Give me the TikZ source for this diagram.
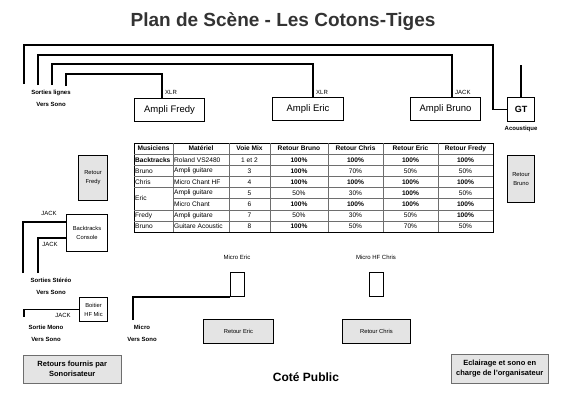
\documentclass[tikz,border=0pt]{standalone}
\usepackage{fontspec}
\setmainfont{Liberation Sans}
\usetikzlibrary{positioning}
\definecolor{grisclair}{RGB}{228,228,228}
\definecolor{grisligne}{RGB}{110,110,110}
\newcommand{\cent}{\textbf{100\%}}
\tikzset{>=stealth}

\begin{document}
\begin{tikzpicture}[x=1pt,y=-1pt,
	cable/.style={line width=1.1pt},
	ampli/.style={draw, line width=1pt, minimum width=70pt, minimum height=23pt, inner sep=0pt, font=\fontsize{9.5}{11}\selectfont},
	retour/.style={draw, line width=1pt, fill=grisclair, inner sep=0pt, align=center, font=\fontsize{5.8}{9}\selectfont},
	boite/.style={draw, line width=1pt, inner sep=0pt, align=center, font=\fontsize{5.8}{9}\selectfont},
	note/.style={draw=grisligne, line width=0.5pt, fill=grisclair, inner sep=0pt, align=center, font=\fontsize{7.5}{10}\selectfont\bfseries},
	petit/.style={font=\fontsize{6}{7}\selectfont, inner sep=1pt},
	petitgras/.style={font=\fontsize{6}{12}\selectfont\bfseries, inner sep=1pt, align=center},
	cellule/.style={font=\fontsize{6.6}{7}\selectfont, inner sep=1pt},
	grille/.style={grisligne, line width=0.4pt}]

	\useasboundingbox (0,0) rectangle (566,400);

	% titre
	\node[font=\fontsize{19}{22}\selectfont\bfseries, text=black!80] (titre) at (283,22) {Plan de Scène - Les Cotons-Tiges};

	% amplis et GT
	\node[ampli, anchor=north west] (fredy) at (134,98) {Ampli Fredy};
	\node[ampli, anchor=north west, minimum width=71pt] (eric) at (272,97) {Ampli Eric};
	\node[ampli, anchor=north west] (bruno) at (410,97) {Ampli Bruno};
	\node[ampli, anchor=north west, minimum width=27pt, minimum height=24pt, font=\fontsize{9}{11}\selectfont\bfseries] (gt) at (507,97) {GT};
	\node[petitgras, below=3pt of gt] (acou) {Acoustique};

	% sorties lignes
	\coordinate (sl1) at (24,84);
	\coordinate (sl2) at (38,85);
	\coordinate (sl3) at (52,85);
	\coordinate (sl4) at (66,86);
	\coordinate (gthaut) at (520,65);
	\draw[cable] (sl1) |- (493,45) |- (gt.west);
	\draw[cable] (sl2) |- (452,55) -- (452,55 |- bruno.north);
	\draw[cable] (sl3) |- (313,64) -- (313,64 |- eric.north);
	\draw[cable] (sl4) |- (162,74) -- (162,74 |- fredy.north);
	\draw[cable] (gt.north) -- (gt.north |- gthaut);
	\node[petitgras] (sortlig) at (51,98) {Sorties lignes\\Vers Sono};
	\node[petit, anchor=west] (xlrf) at (164,92) {XLR};
	\node[petit, anchor=west] (xlre) at (315,92) {XLR};
	\node[petit, anchor=west] (jackb) at (454,92) {JACK};

	% retours lateraux
	\node[retour, anchor=north west, minimum width=29pt, minimum height=45pt] (retfredy) at (78,155) {Retour\\Fredy};
	\node[retour, anchor=north west, minimum width=27pt, minimum height=47pt] (retbruno) at (507,155) {Retour\\Bruno};

	% tableau
	\draw[line width=0.8pt] (134,143) rectangle (493,232);
	\foreach \x in {173,229,270,328,383,438}
		\draw[grille] (\x,143) -- (\x,232);
	\foreach \k in {1,2,3,4,6,7}
		\draw[grille] (134,{143+11.125*\k}) -- (493,{143+11.125*\k});
	\draw[grille] (173,{143+11.125*5}) -- (493,{143+11.125*5});
	\foreach \k/\mus/\mat/\voie/\retB/\retC/\retE/\retF in {
		0/\textbf{Musiciens}/\textbf{Matériel}/\textbf{Voie Mix}/\textbf{Retour Bruno}/\textbf{Retour Chris}/\textbf{Retour Eric}/\textbf{Retour Fredy},
		1/\textbf{Backtracks}/Roland VS2480/1 et 2/\cent/\cent/\cent/\cent,
		2/Bruno/Ampli guitare/3/\cent/70\%/50\%/50\%,
		3/Chris/Micro Chant HF/4/\cent/\cent/\cent/\cent,
		4/{}/Ampli guitare/5/50\%/30\%/\cent/50\%,
		5/{}/Micro Chant/6/\cent/\cent/\cent/\cent,
		6/Fredy/Ampli guitare/7/50\%/30\%/50\%/\cent,
		7/Bruno/Guitare Acoustic/8/\cent/50\%/70\%/50\%}
	{
		\ifnum\k=0
			\node[cellule] (mus-\k) at (153.5,{148.6+11.125*\k}) {\mus};
		\else
			\node[cellule, anchor=west] (mus-\k) at (134,{148.6+11.125*\k}) {\mus};
		\fi
		\ifnum\k=0
			\node[cellule] (mat-\k) at (201,{148.6+11.125*\k}) {\mat};
		\else
			\node[cellule, anchor=west] (mat-\k) at (173,{148.6+11.125*\k}) {\mat};
		\fi
		\node[cellule] (voie-\k) at (249.5,{148.6+11.125*\k}) {\voie};
		\node[cellule] (rb-\k) at (299,{148.6+11.125*\k}) {\retB};
		\node[cellule] (rc-\k) at (355.5,{148.6+11.125*\k}) {\retC};
		\node[cellule] (re-\k) at (410.5,{148.6+11.125*\k}) {\retE};
		\node[cellule] (rf-\k) at (465.5,{148.6+11.125*\k}) {\retF};
	}
	\node[cellule, anchor=west] (mus-eric) at (134,198.6) {Eric};

	% backtracks
	\node[boite, anchor=north west, minimum width=41pt, minimum height=37pt] (bt) at (66,214) {Backtracks\\Console};
	\coordinate (st1) at (23,273);
	\coordinate (st2) at (38,273);
	\draw[cable] (st1) |- ([yshift=-8pt]bt.north west);
	\draw[cable] (st2) |- ([yshift=-24pt]bt.north west);
	\node[petit] (jack1) at (49,213) {JACK};
	\node[petit] (jack2) at (50,244) {JACK};
	\node[petitgras] (sortst) at (51,286) {Sorties Stéréo\\Vers Sono};

	% boitier HF
	\node[boite, anchor=north west, minimum width=28pt, minimum height=24pt] (hf) at (79,297) {Boitier\\HF Mic};
	\coordinate (mono) at (24,317);
	\draw[cable] (hf.west) -| (mono);
	\node[petit] (jack3) at (63,315) {JACK};
	\node[petitgras] (sortmono) at (46,333) {Sortie Mono\\Vers Sono};

	% micros
	\node[boite, anchor=north west, minimum width=14pt, minimum height=24pt] (micEric) at (230,272) {};
	\node[boite, anchor=north west, minimum width=14pt, minimum height=24pt] (micChris) at (369,272) {};
	\node[petit] (lmicEric) at (237,257) {Micro Eric};
	\node[petit] (lmicChris) at (376,257) {Micro HF Chris};
	\coordinate (micsono) at (133,320);
	\draw[cable] (micsono) |- (micEric.south west);
	\node[petitgras] (lmicsono) at (142,333) {Micro\\Vers Sono};

	% retours face
	\node[retour, anchor=north west, minimum width=70pt, minimum height=24pt] (reteric) at (203,319) {Retour Eric};
	\node[retour, anchor=north west, minimum width=68pt, minimum height=24pt] (retchris) at (342,319) {Retour Chris};

	% bas de page
	\node[note, anchor=north west, minimum width=98pt, minimum height=28pt] (fournis) at (23,355) {Retours fournis par\\Sonorisateur};
	\node[note, anchor=north west, minimum width=97pt, minimum height=29pt] (eclairage) at (451,354) {Eclairage et sono en\\charge de l'organisateur};
	\node[font=\fontsize{12}{14}\selectfont\bfseries] (public) at (306,377) {Coté Public};

\end{tikzpicture}
\end{document}
